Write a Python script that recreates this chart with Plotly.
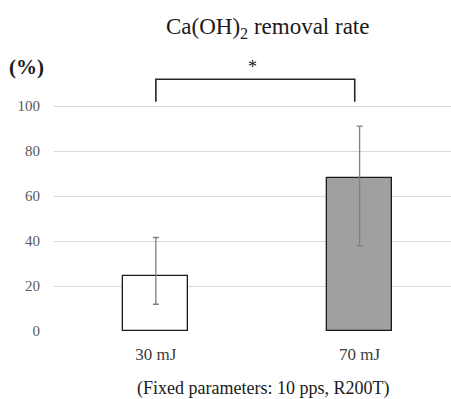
import plotly.graph_objects as go

categories = ["30 mJ", "70 mJ"]
means = [24.4, 67.9]
err_upper = [17.2, 23.2]
err_lower = [12.5, 30.0]
bar_colors = ["#ffffff", "#a0a0a0"]
tick_vals = [0, 20, 40, 60, 80, 100]
bracket_x = [0, 0.976]
bracket_y = [102, 112]
significance = "*"

W, H = 451, 399
L, R, T, B = 54, 0, 50, 68

fig = go.Figure()
fig.add_trace(go.Bar(
    x=[0, 1], y=means, width=0.32,
    marker=dict(color=bar_colors, line=dict(color="#1a1a1a", width=1.3)),
    error_y=dict(type="data", symmetric=False, array=err_upper, arrayminus=err_lower,
                 color="#7f7f7f", thickness=1.3, width=3),
    showlegend=False,
))

# significance bracket
fig.add_trace(go.Scatter(
    x=[bracket_x[0], bracket_x[0], bracket_x[1], bracket_x[1]],
    y=[bracket_y[0], bracket_y[1], bracket_y[1], bracket_y[0]],
    mode="lines", line=dict(color="#262626", width=1.6), showlegend=False,
    cliponaxis=False, hoverinfo="skip",
))
fig.add_annotation(x=0.475, y=bracket_y[1] + 5.5, xref="x", yref="y", text=significance,
                   showarrow=False, font=dict(family="Liberation Serif", size=18, color="#1a1a1a"))

fig.update_layout(
    width=W, height=H,
    margin=dict(l=L, r=R, t=T, b=B),
    plot_bgcolor="white", paper_bgcolor="white",
    bargap=0,
    xaxis=dict(range=[-0.5, 1.4485], tickvals=[0, 1], ticktext=categories,
               showgrid=False, zeroline=False, showline=False, automargin=False,
               tickfont=dict(family="Liberation Serif", size=17, color="#404040"),
               ticks="outside", ticklen=8, tickcolor="rgba(0,0,0,0)"),
    yaxis=dict(range=[0, 125], tickvals=tick_vals, showgrid=True, gridcolor="#d9d9d9",
               gridwidth=1.2, zeroline=False, showline=False, automargin=False,
               tickfont=dict(family="Liberation Serif", size=15, color="#595959"),
               ticks="outside", ticklen=10, tickcolor="rgba(0,0,0,0)"),
    font=dict(family="Liberation Serif"),
)

fig.add_annotation(x=267, y=H - 28, text="Ca(OH)<sub>2</sub> removal rate",
                   showarrow=False, font=dict(family="Liberation Serif", size=23, color="#1a1a1a"))
fig.add_annotation(text="<b>(%)</b>", x=27, y=H - 67, showarrow=False,
                   font=dict(family="Liberation Serif", size=21, color="#1a1a1a"))
fig.add_annotation(text="(Fixed parameters: 10 pps, R200T)", x=263, y=H - 388, showarrow=False,
                   font=dict(family="Liberation Serif", size=18, color="#1a1a1a"))

# convert pixel positions to paper coords
pw, ph = W - L - R, H - T - B
for a in fig.layout.annotations[1:]:
    a.xref = "paper"; a.yref = "paper"
    a.xanchor = "center"; a.yanchor = "middle"
    a.x = (a.x - L) / pw
    a.y = (a.y - B) / ph

fig.write_html("out.html", config={"displayModeBar": False},
               post_script="document.body.style.margin='0';document.body.style.overflow='hidden';")
